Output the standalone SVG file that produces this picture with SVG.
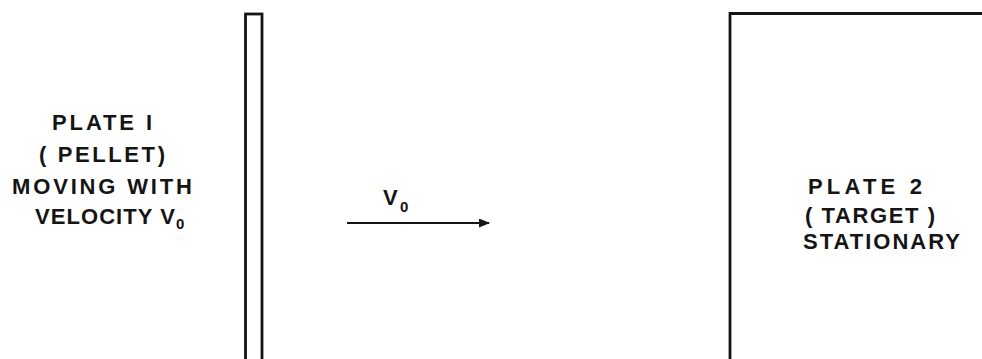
<svg xmlns="http://www.w3.org/2000/svg" width="982" height="359" viewBox="0 0 982 359">
<style>
text{font-family:"Liberation Sans",Arial,sans-serif;font-size:22px;font-weight:bold;fill:#151515}
.sub{font-size:15px}
.plate{fill:none;stroke:#151515;stroke-width:2.8}
.conn{stroke:#151515;stroke-width:2;fill:none}
</style>
<defs>
<marker id="ah" markerWidth="11" markerHeight="9" refX="10" refY="4.5" orient="auto" markerUnits="userSpaceOnUse">
<path d="M0,0 L11,4.5 L0,9 Z" fill="#151515"/>
</marker>
</defs>
<rect width="982" height="359" fill="#fff"/>
<g id="plate1">
<rect class="plate" x="245.5" y="14" width="16.5" height="350"/>
</g>
<g id="label1">
<text x="52" y="130" textLength="100" lengthAdjust="spacing">PLATE I</text>
<text x="39" y="162" textLength="126" lengthAdjust="spacing">( PELLET)</text>
<text x="12" y="194" textLength="180" lengthAdjust="spacing">MOVING WITH</text>
<text x="35" y="224" textLength="140" lengthAdjust="spacing">VELOCITY V</text>
<text class="sub" x="176" y="229">0</text>
</g>
<g id="plate2">
<path class="plate" d="M730,362 L730,13.5 L985,13.5"/>
</g>
<g id="label2">
<text x="808" y="194" textLength="114" lengthAdjust="spacing">PLATE 2</text>
<text x="805" y="223" textLength="130" lengthAdjust="spacing">( TARGET )</text>
<text x="803" y="249" textLength="157" lengthAdjust="spacing">STATIONARY</text>
</g>
<g id="connectors">
<line class="conn" x1="347" y1="223" x2="489" y2="223" marker-end="url(#ah)"/>
<text x="383" y="205">V</text>
<text class="sub" x="400" y="212">0</text>
</g>
</svg>
